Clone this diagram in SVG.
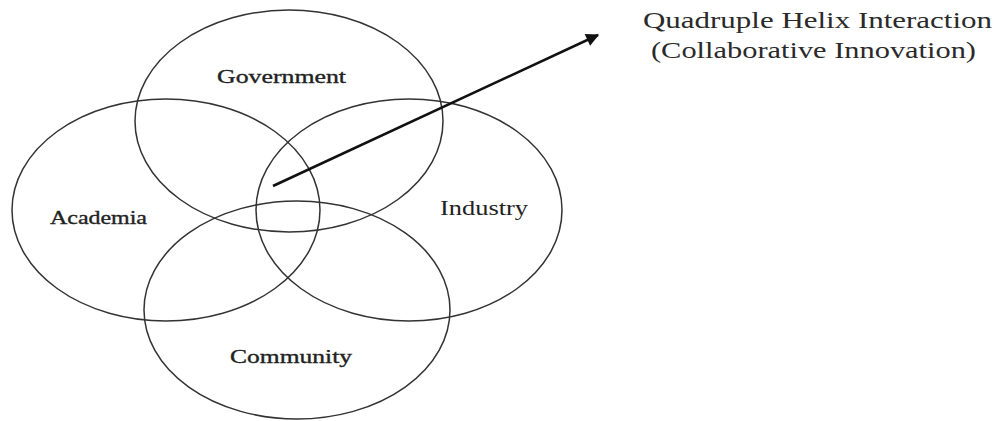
<svg xmlns="http://www.w3.org/2000/svg" width="995" height="421" viewBox="0 0 995 421">
  <defs>
    <style>
      .ring { fill: none; stroke: #333; stroke-width: 1.5; }
      .lbl { font-family: "Liberation Serif", "DejaVu Serif", serif; font-size: 19.5px; fill: #222; stroke: #222; stroke-width: 0.35; }
      .plain { font-family: "Liberation Serif", "DejaVu Serif", serif; font-size: 20px; fill: #222; }
      .title { font-family: "Liberation Serif", "DejaVu Serif", serif; font-size: 22.5px; fill: #2a2a2a; }
      .link { stroke: #111; stroke-width: 2.6; fill: none; }
    </style>
    <marker id="head" viewBox="0 0 10 10" refX="9" refY="5" markerWidth="6" markerHeight="5" orient="auto" markerUnits="strokeWidth">
      <path d="M0,0 L10,5 L0,10 z" fill="#111"/>
    </marker>
  </defs>
  <rect width="995" height="421" fill="#fff"/>

  <!-- four overlapping sectors -->
  <g id="government">
    <ellipse class="ring" cx="289" cy="121" rx="154" ry="111"/>
    <text class="lbl" x="217" y="83" textLength="129" lengthAdjust="spacingAndGlyphs">Government</text>
  </g>
  <g id="academia">
    <ellipse class="ring" cx="166" cy="210" rx="154" ry="111"/>
    <text class="lbl" x="50" y="224" textLength="97" lengthAdjust="spacingAndGlyphs">Academia</text>
  </g>
  <g id="industry">
    <ellipse class="ring" cx="409" cy="210" rx="153" ry="111"/>
    <text class="plain" x="440" y="215" textLength="88" lengthAdjust="spacingAndGlyphs">Industry</text>
  </g>
  <g id="community">
    <ellipse class="ring" cx="297" cy="310" rx="153" ry="109"/>
    <text class="lbl" x="230" y="363" textLength="122" lengthAdjust="spacingAndGlyphs">Community</text>
  </g>

  <!-- caption for the shared core -->
  <g id="interaction">
    <text class="title" x="643" y="28" textLength="349" lengthAdjust="spacingAndGlyphs">Quadruple  Helix  Interaction</text>
    <text class="title" x="651" y="58" textLength="325" lengthAdjust="spacingAndGlyphs">(Collaborative  Innovation)</text>
  </g>

  <g id="connectors">
    <line class="link" x1="273" y1="186" x2="598" y2="35" marker-end="url(#head)"/>
  </g>
</svg>
